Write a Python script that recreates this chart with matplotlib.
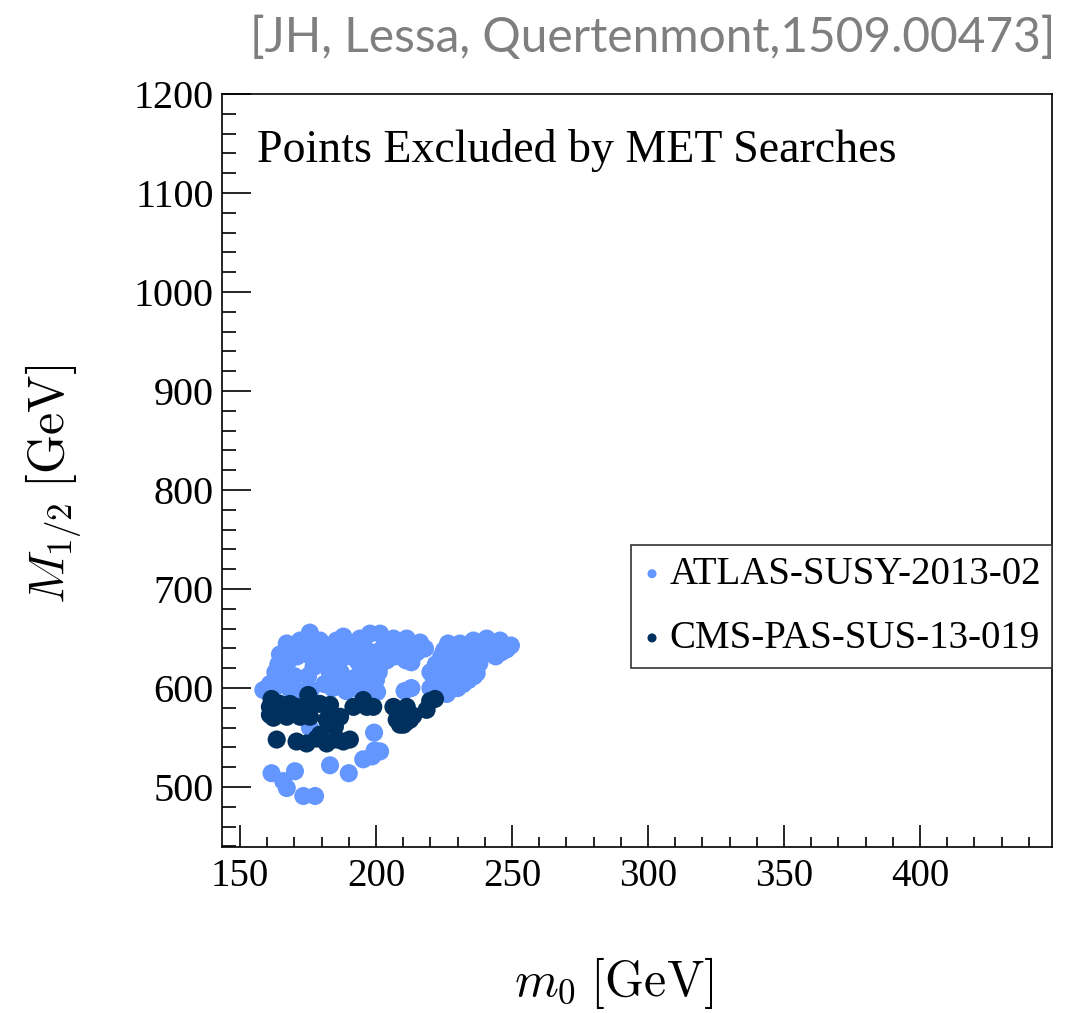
import numpy as np
import matplotlib
matplotlib.use("Agg")
import matplotlib.pyplot as plt

# points excluded (m0, M1/2) in GeV
atlas_m0 = [167.2, 172.1, 175.7, 179.4, 185.5, 188.0, 194.1, 197.8, 201.5, 206.4,
            211.3, 216.2, 218.0, 226.5, 230.9, 235.8, 240.7, 245.6, 249.6,
            164.7, 164.1, 162.9, 158.6, 161.0, 160.0, 163.0,
            170, 182, 191, 203, 214, 233, 238, 243,
            174, 178, 187, 196, 207, 211, 228, 236, 248,
            167, 176, 186, 195, 200, 208, 215, 225, 229, 236, 241, 246,
            166, 171, 176, 181, 189, 197, 201, 207, 213, 224, 228, 233, 238, 244,
            168, 179, 184, 193, 198, 204, 211, 226, 231, 235,
            167, 180, 186, 194, 199, 213, 222, 227, 231, 235,
            166, 177, 183, 196, 201, 220, 224, 229, 233,
            165, 183, 187, 197, 201, 223, 228, 233,
            164, 170, 175, 186, 192, 198, 221, 226, 231, 236,
            166, 183, 189, 196, 200, 224, 229, 234,
            167, 181, 186, 193, 222, 227, 232,
            168, 184, 192, 220, 224, 230,
            162, 176, 171.4, 189, 196, 200.4, 210.5, 213, 226,
            248, 243, 238, 237, 232, 228,
            161.6, 165.9, 167.2, 170.2, 173.3, 177.6, 183.1, 190.0, 195.3, 198.6,
            199.5, 201.5, 199.3, 175.7]
atlas_M12 = [645, 648, 656, 648, 648, 652, 650, 655, 655, 650,
             650, 646, 640, 645, 645, 648, 650, 648, 643,
             634, 624, 609, 598, 604, 600, 616,
             643, 643, 643, 643, 643, 643, 643, 643,
             640, 640, 640, 640, 640, 640, 640, 640, 640,
             636, 636, 636, 636, 636, 636, 636, 638, 636, 636, 636, 636,
             632, 632, 632, 632, 632, 632, 632, 632, 632, 632, 632, 632, 632, 632,
             628, 628, 628, 628, 628, 628, 628, 628, 628, 628,
             624, 624, 624, 624, 624, 626, 624, 624, 624, 624,
             620, 621, 620, 620, 620, 616, 620, 620, 620,
             616, 616, 616, 616, 616, 616, 616, 616,
             612, 612, 612, 612, 610, 612, 612, 612, 612, 612,
             608, 608, 608, 608, 608, 608, 608, 608,
             604, 604, 604, 604, 604, 604, 604,
             600, 600, 600, 600, 600, 600,
             597, 598, 597, 597, 597, 596, 597, 600, 594,
             639, 634, 625, 615, 607, 599,
             514, 506, 499, 516, 491, 491, 522, 514, 528, 531,
             537, 536, 555, 560]

cms_m0 = [161.6, 161.0, 161.0, 162.3, 168.4, 167.2, 172.1, 175.1, 174.5, 179.4,
          183.1, 181.9, 184.9, 186.8, 191.7, 195.3, 199.0, 206.4, 207.6, 211.3,
          211.3, 218.6, 221.7, 163.5, 170.8, 174.5, 179.4, 181.9, 185.5, 190.4,
          175.7, 209.5, 208.8, 213.7, 196.6, 183.1, 178.2, 164.7, 170.8, 210.1,
          212.5, 219.9, 188.0, 184.3]
cms_M12 = [589, 581, 573, 570, 584, 571, 571, 593, 581, 584,
           574, 568, 561, 571, 581, 588, 581, 581, 568, 581,
           566, 578, 589, 548, 546, 544, 553, 544, 548, 548,
           571, 574, 563, 572, 581, 583, 549, 584, 581, 563,
           568, 587, 546, 566]

x_ticks = [150, 200, 250, 300, 350, 400]
y_ticks = [500, 600, 700, 800, 900, 1000, 1100, 1200]

plt.rcParams['font.family'] = ['Liberation Serif', 'DejaVu Serif']
plt.rcParams['mathtext.fontset'] = 'cm'

fig = plt.figure(figsize=(10.7, 10.13), dpi=100)
ax = fig.add_axes([0.2075, 0.1639, 0.7757, 0.7433])

light = '#6496ff'
dark = '#00305e'
ax.scatter(atlas_m0, atlas_M12, s=170, color=light, edgecolors='none',
           label='ATLAS-SUSY-2013-02', zorder=2)
ax.scatter(cms_m0, cms_M12, s=170, color=dark, edgecolors='none',
           label='CMS-PAS-SUS-13-019', zorder=3)

ax.set_xlim(143.4, 448.5)
ax.set_ylim(439.5, 1200)
ax.set_xticks(x_ticks)
ax.set_yticks(y_ticks)
ax.set_xticks(np.arange(150, 449, 10), minor=True)
ax.set_yticks(np.arange(440, 1201, 20), minor=True)

ax.tick_params(axis='both', which='both', direction='in', top=False, right=False,
               width=1.2)
ax.tick_params(axis='x', which='major', length=16, pad=8, labelsize=28)
ax.tick_params(axis='x', which='minor', length=7)
ax.tick_params(axis='y', which='major', length=21, pad=6, labelsize=29)
ax.tick_params(axis='y', which='minor', length=10)
for sp in ax.spines.values():
    sp.set_linewidth(1.2)

ax.text(0.042, 0.91, 'Points Excluded by MET Searches', transform=ax.transAxes,
        fontsize=33, ha='left', va='baseline')

ax.set_xlabel(r'$m_0\;[\mathrm{GeV}]$', fontsize=36, va='center')
ax.set_ylabel(r'$M_{1/2}\;[\mathrm{GeV}]$', fontsize=36, va='center')
ax.xaxis.set_label_coords(0.472, -0.181)
ax.yaxis.set_label_coords(-0.202, 0.481)

leg = ax.legend(loc='upper right', bbox_to_anchor=(1.0, 0.401), borderaxespad=0,
                fontsize=28, markerscale=0.5, fancybox=False, framealpha=1,
                edgecolor='#333333', handletextpad=0.2, borderpad=0.28,
                labelspacing=0.7, handlelength=0.5)
leg.get_frame().set_linewidth(1.2)

fig.text(1055 / 1070, 1 - 38 / 1013, '[JH, Lessa, Quertenmont,1509.00473]',
         ha='right', va='center', color='#7f7f7f', fontsize=34.5, family='Lato')

fig.savefig('out.png', dpi=100)
